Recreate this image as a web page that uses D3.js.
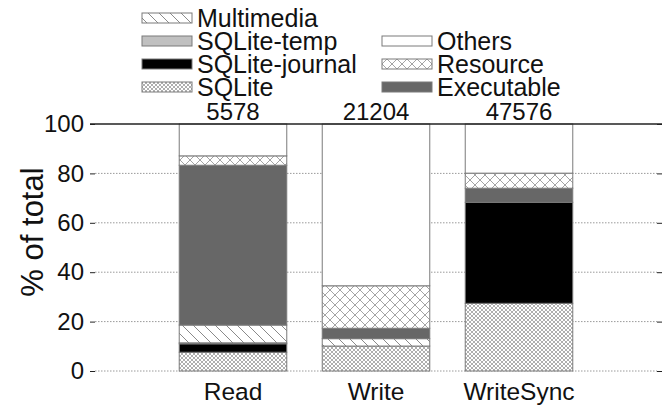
<!DOCTYPE html>
<html>
<head>
<meta charset="utf-8">
<script src="https://cdn.jsdelivr.net/npm/d3@7"></script>
<style>
  html, body { margin: 0; padding: 0; background: #fff; }
  svg { display: block; font-family: "Liberation Sans", Arial, Helvetica, sans-serif; }
</style>
</head>
<body>
<svg id="chart" width="671" height="406"></svg>
<script>
// Share of I/O per file type, by operation
const categories = ["Read", "Write", "WriteSync"];
const totals = [5578, 21204, 47576];
const seriesNames = ["SQLite", "SQLite-journal", "SQLite-temp", "Multimedia", "Executable", "Resource", "Others"];
const sqliteVals   = [7.6, 10.1, 27.4];
const journalVals  = [3.4, 0.0, 40.9];
const tempVals     = [0.4, 0.0, 0.0];
const mediaVals    = [7.2, 3.0, 0.0];
const execVals     = [64.7, 4.2, 5.7];
const resourceVals = [3.8, 17.2, 6.1];
const othersVals   = [12.9, 65.5, 19.9];
const yTicks = [0, 20, 40, 60, 80, 100];

const seriesValues = [sqliteVals, journalVals, tempVals, mediaVals, execVals, resourceVals, othersVals];
const rows = categories.map((c, i) => {
  const r = { category: c };
  seriesNames.forEach((s, k) => { r[s] = seriesValues[k][i]; });
  return r;
});

const svg = d3.select("#chart");
const defs = svg.append("defs");

// Fill patterns
const pMedia = defs.append("pattern").attr("id", "p-media").attr("patternUnits", "userSpaceOnUse")
  .attr("width", 11).attr("height", 11);
pMedia.append("rect").attr("width", 11).attr("height", 11).attr("fill", "#fff");
pMedia.append("path").attr("d", "M0,0L11,11M-3,8L3,14M8,-3L14,3")
  .attr("stroke", "#8a8a8a").attr("stroke-width", 1);

const pSqlite = defs.append("pattern").attr("id", "p-sqlite").attr("patternUnits", "userSpaceOnUse")
  .attr("width", 4).attr("height", 4);
pSqlite.append("rect").attr("width", 4).attr("height", 4).attr("fill", "#fff");
pSqlite.append("path").attr("d", "M0,0L4,4M4,0L0,4")
  .attr("stroke", "#9a9a9a").attr("stroke-width", 0.8);

const pRes = defs.append("pattern").attr("id", "p-res").attr("patternUnits", "userSpaceOnUse")
  .attr("width", 10).attr("height", 10);
pRes.append("rect").attr("width", 10).attr("height", 10).attr("fill", "#fff");
pRes.append("path").attr("d", "M0,0L10,10M10,0L0,10")
  .attr("stroke", "#9a9a9a").attr("stroke-width", 0.9);

const fills = {
  "SQLite": "url(#p-sqlite)",
  "SQLite-journal": "#000",
  "SQLite-temp": "#c0c0c0",
  "Multimedia": "url(#p-media)",
  "Executable": "#676767",
  "Resource": "url(#p-res)",
  "Others": "#fff"
};

const y = d3.scaleLinear().domain([0, 100]).range([371, 124]);
const x = d3.scaleBand().domain(categories).range([95, 657])
  .paddingInner(0.248).paddingOuter(0.589);

// Dotted grid lines
svg.append("g")
  .selectAll("line")
  .data(yTicks.filter(t => t < 100))
  .join("line")
  .attr("x1", 95).attr("x2", 657)
  .attr("y1", d => y(d)).attr("y2", d => y(d))
  .attr("stroke", "#9a9a9a").attr("stroke-width", 1)
  .attr("stroke-dasharray", "1.5,1.5");

// Left axis
const yAxis = svg.append("g").attr("transform", "translate(95,0)")
  .call(d3.axisLeft(y).tickValues(yTicks).tickSize(5).tickPadding(6));
yAxis.select(".domain").remove();
yAxis.selectAll(".tick line").attr("stroke", "#222");
yAxis.selectAll(".tick text").attr("font-size", 24).attr("fill", "#111")
  .attr("font-family", "\"Liberation Sans\", Arial, sans-serif");

// Right axis ticks
const yAxisR = svg.append("g").attr("transform", "translate(657,0)")
  .call(d3.axisRight(y).tickValues(yTicks).tickSize(5).tickFormat(""));
yAxisR.select(".domain").remove();
yAxisR.selectAll(".tick line").attr("stroke", "#222");

// Stacked bars
const stacked = d3.stack().keys(seriesNames)(rows);
svg.append("g")
  .selectAll("g")
  .data(stacked)
  .join("g")
  .attr("fill", d => fills[d.key])
  .selectAll("rect")
  .data(d => d.filter(s => s[1] - s[0] > 0))
  .join("rect")
  .attr("x", d => x(d.data.category))
  .attr("width", x.bandwidth())
  .attr("y", d => y(d[1]))
  .attr("height", d => y(d[0]) - y(d[1]))
  .attr("stroke", "#7a7a7a").attr("stroke-width", 1);

// Top frame line at 100%
svg.append("line")
  .attr("x1", 90).attr("x2", 662)
  .attr("y1", y(100)).attr("y2", y(100))
  .attr("stroke", "#222").attr("stroke-width", 1.5);

// Totals above bars
svg.append("g")
  .selectAll("text")
  .data(categories)
  .join("text")
  .attr("x", d => x(d) + x.bandwidth() / 2)
  .attr("y", 120)
  .attr("text-anchor", "middle")
  .attr("font-size", 24)
  .attr("fill", "#111")
  .text((d, i) => totals[i]);

// Category labels
svg.append("g")
  .selectAll("text")
  .data(categories)
  .join("text")
  .attr("x", d => x(d) + x.bandwidth() / 2)
  .attr("y", 400)
  .attr("text-anchor", "middle")
  .attr("font-size", 24.5)
  .attr("fill", "#111")
  .text(d => d);

// Y axis title
svg.append("text")
  .attr("transform", "translate(43,232) rotate(-90)")
  .attr("text-anchor", "middle")
  .attr("font-size", 31)
  .attr("fill", "#111")
  .text("% of total");

// Legend
const legendItems = [
  { key: "Multimedia", col: 0, row: 0 },
  { key: "SQLite-temp", col: 0, row: 1 },
  { key: "SQLite-journal", col: 0, row: 2 },
  { key: "SQLite", col: 0, row: 3 },
  { key: "Others", col: 1, row: 1 },
  { key: "Resource", col: 1, row: 2 },
  { key: "Executable", col: 1, row: 3 }
];
const colX = [142, 382];
const rowY = [18, 41, 64, 87];
const lg = svg.append("g")
  .selectAll("g")
  .data(legendItems)
  .join("g")
  .attr("transform", d => `translate(${colX[d.col]},${rowY[d.row]})`);
lg.append("rect")
  .attr("x", 0).attr("y", -5).attr("width", 50).attr("height", 10)
  .attr("fill", d => fills[d.key])
  .attr("stroke", "#7a7a7a").attr("stroke-width", 1);
lg.append("text")
  .attr("x", 55).attr("y", 8.5)
  .attr("font-size", 25)
  .attr("fill", "#111")
  .text(d => d.key);
</script>
</body>
</html>
